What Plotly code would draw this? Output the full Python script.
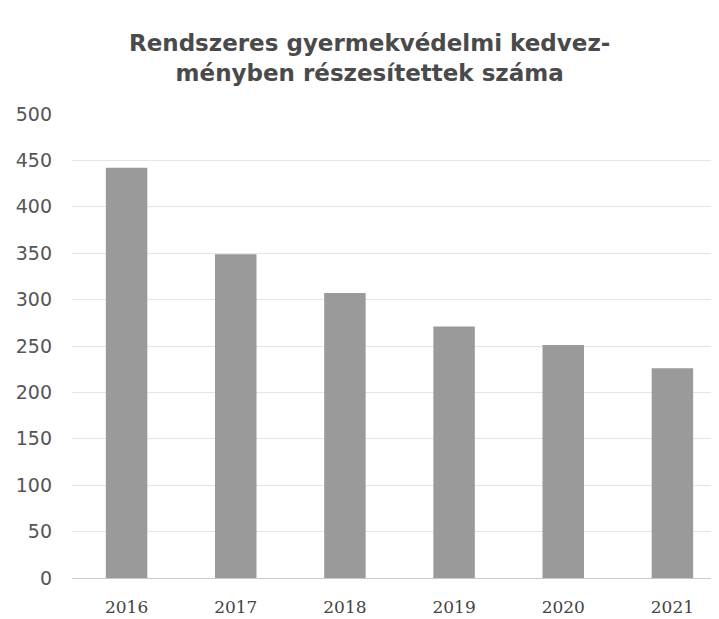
import plotly.graph_objects as go

years = ["2016", "2017", "2018", "2019", "2020", "2021"]
values = [442, 349, 307, 271, 251, 226]
title_text = "Rendszeres gyermekvédelmi kedvez-<br>ményben részesítettek száma"
y_ticks = list(range(0, 501, 50))

fig = go.Figure(go.Bar(
    x=years, y=values,
    marker=dict(color="#9a9a9a", line=dict(width=0)),
    width=0.38,
))

fig.update_layout(
    width=719, height=619,
    margin=dict(l=64, r=0, t=106, b=49),
    paper_bgcolor="white", plot_bgcolor="white",
    title=dict(text=title_text, x=0.503, xanchor="center", y=0.93, yanchor="middle",
               font=dict(family="DejaVu Sans", size=23, color="#4a4a4a", weight="bold")),
    showlegend=False,
    bargap=0.62,
)
fig.update_xaxes(
    type="category", range=[-0.5, 5.5], automargin=False,
    showline=True, linecolor="#c8c8c8", linewidth=1,
    ticks="", tickfont=dict(family="DejaVu Serif", size=17, color="#444444"),
    ticklabelstandoff=14,
)
fig.update_yaxes(
    range=[0, 500], tickvals=y_ticks, automargin=False,
    showgrid=True, gridcolor="#e4e4e4", gridwidth=1,
    zeroline=False, showline=False,
    tickfont=dict(family="DejaVu Sans", size=19, color="#555555"),
    ticklabelstandoff=19,
)

fig.write_html("out.html")
